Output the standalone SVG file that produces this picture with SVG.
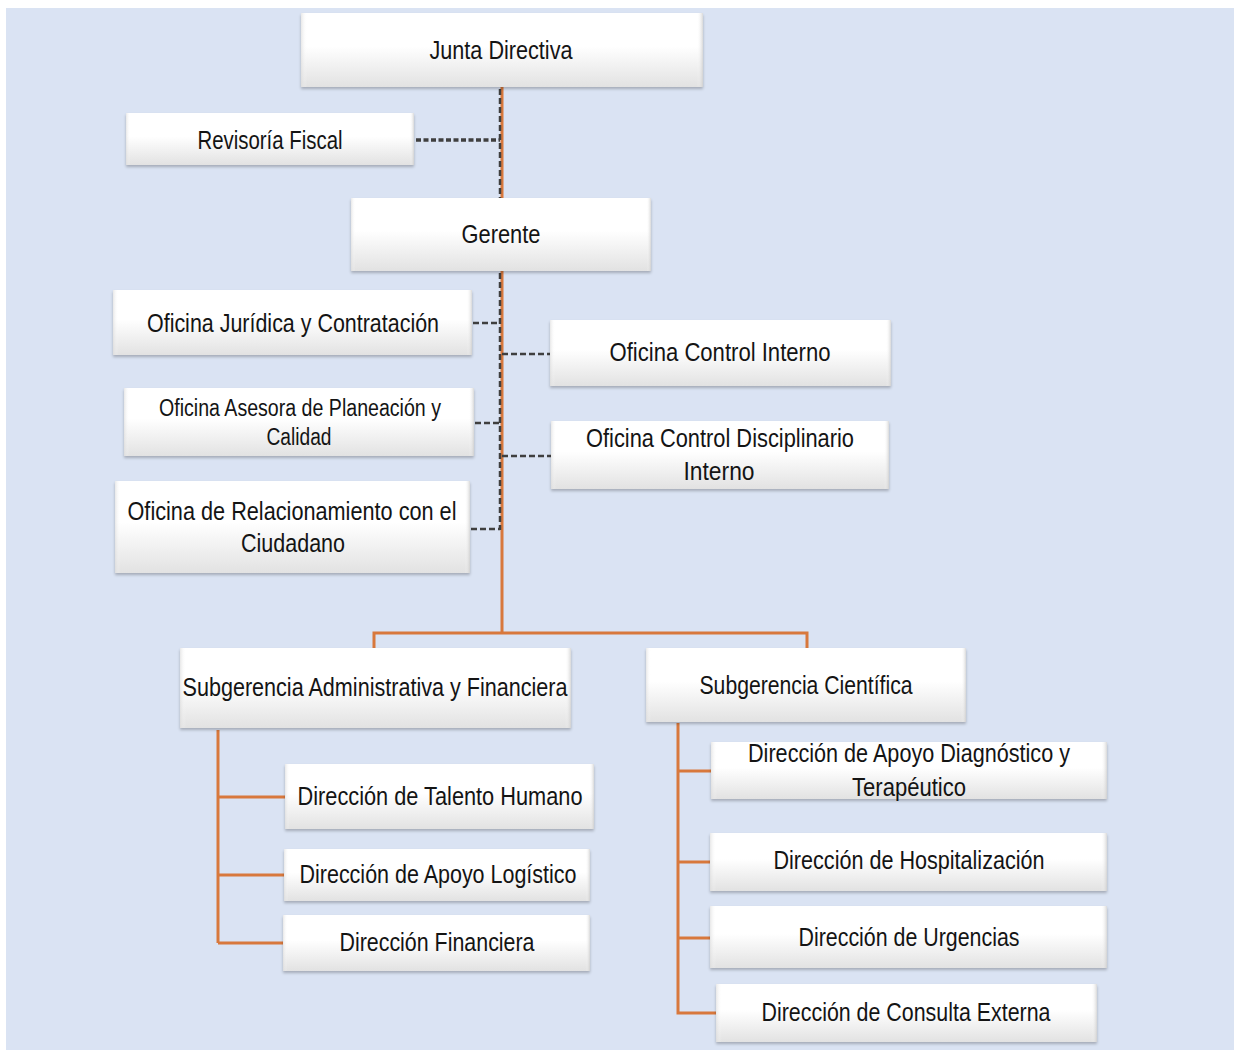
<svg xmlns="http://www.w3.org/2000/svg" width="1234" height="1050" viewBox="0 0 1234 1050">
<defs>
<linearGradient id="bev" x1="0" y1="0" x2="0" y2="1">
<stop offset="0" stop-color="#ffffff"/>
<stop offset="0.45" stop-color="#ffffff"/>
<stop offset="1" stop-color="#e2e2e2"/>
</linearGradient>
<linearGradient id="side" x1="0" y1="0" x2="1" y2="0">
<stop offset="0" stop-color="#d8d8d8" stop-opacity="0.6"/>
<stop offset="0.015" stop-color="#ffffff" stop-opacity="0"/>
<stop offset="0.985" stop-color="#ffffff" stop-opacity="0"/>
<stop offset="1" stop-color="#c8c8c8" stop-opacity="0.7"/>
</linearGradient>
<filter id="sh" x="-5%" y="-10%" width="110%" height="130%">
<feGaussianBlur in="SourceAlpha" stdDeviation="1.5"/>
<feOffset dx="0" dy="1.5" result="b"/>
<feComponentTransfer><feFuncA type="linear" slope="0.25"/></feComponentTransfer>
<feMerge><feMergeNode/><feMergeNode in="SourceGraphic"/></feMerge>
</filter>
</defs>
<style>
.box{fill:url(#bev);filter:url(#sh)}
.edge{fill:url(#side)}
.t{font-family:"Liberation Sans Narrow","Liberation Sans",Arial,sans-serif;font-size:25px;fill:#141414;text-anchor:middle}
.s{font-size:23px}
.or{stroke:#D8783C;stroke-width:3;fill:none}
.dash{stroke:#3f3f3f;stroke-width:2.5;stroke-dasharray:6 3;fill:none}
.dot{stroke:#3f3f3f;stroke-width:3.5;stroke-dasharray:5 2.5;fill:none}
</style>
<rect x="6" y="8" width="1228" height="1042" fill="#DAE3F3"/>

<g id="connectors">
<line class="or" x1="502" y1="87" x2="502" y2="633"/>
<line class="dash" x1="500" y1="89" x2="500" y2="198"/>
<line class="dash" x1="500" y1="273" x2="500" y2="530"/>
<line class="dot" x1="416" y1="140" x2="500" y2="140"/>
<line class="dash" x1="473" y1="323" x2="500" y2="323"/>
<line class="dash" x1="502" y1="354" x2="550" y2="354"/>
<line class="dash" x1="475" y1="423" x2="500" y2="423"/>
<line class="dash" x1="502" y1="456" x2="551" y2="456"/>
<line class="dash" x1="471" y1="529" x2="500" y2="529"/>
<polyline class="or" points="374,648 374,633 807,633 807,648"/>
<polyline class="or" points="218,730 218,943"/>
<line class="or" x1="218" y1="797" x2="286" y2="797"/>
<line class="or" x1="218" y1="875" x2="284" y2="875"/>
<line class="or" x1="218" y1="943" x2="283" y2="943" stroke-width="4"/>
<polyline class="or" points="678,723 678,1013 716,1013"/>
<line class="or" x1="678" y1="771" x2="711" y2="771" stroke-width="4"/>
<line class="or" x1="678" y1="862" x2="710" y2="862"/>
<line class="or" x1="678" y1="938" x2="710" y2="938" stroke-width="4"/>
</g>

<g id="junta"><rect class="box" x="301" y="13" width="402" height="74"/><rect class="edge" x="301" y="13" width="402" height="74"/>
<text class="t" x="501" y="59" textLength="143" lengthAdjust="spacingAndGlyphs">Junta Directiva</text></g>

<g id="revisoria"><rect class="box" x="126" y="113" width="288" height="52"/><rect class="edge" x="126" y="113" width="288" height="52"/>
<text class="t" x="270" y="149" textLength="145" lengthAdjust="spacingAndGlyphs">Revisoría Fiscal</text></g>

<g id="gerente"><rect class="box" x="351" y="198" width="300" height="73"/><rect class="edge" x="351" y="198" width="300" height="73"/>
<text class="t" x="501" y="243" textLength="79" lengthAdjust="spacingAndGlyphs">Gerente</text></g>

<g id="juridica"><rect class="box" x="113" y="290" width="359" height="65"/><rect class="edge" x="113" y="290" width="359" height="65"/>
<text class="t" x="293" y="332" textLength="292" lengthAdjust="spacingAndGlyphs">Oficina Jurídica y Contratación</text></g>

<g id="control-interno"><rect class="box" x="550" y="320" width="341" height="66"/><rect class="edge" x="550" y="320" width="341" height="66"/>
<text class="t" x="720" y="361" textLength="221" lengthAdjust="spacingAndGlyphs">Oficina Control Interno</text></g>

<g id="planeacion"><rect class="box" x="124" y="388" width="350" height="68"/><rect class="edge" x="124" y="388" width="350" height="68"/>
<text class="t s" x="300" y="416" textLength="282" lengthAdjust="spacingAndGlyphs">Oficina Asesora de Planeación y</text>
<text class="t s" x="299" y="445" textLength="65" lengthAdjust="spacingAndGlyphs">Calidad</text></g>

<g id="disciplinario"><rect class="box" x="551" y="421" width="338" height="68"/><rect class="edge" x="551" y="421" width="338" height="68"/>
<text class="t" x="720" y="447" textLength="268" lengthAdjust="spacingAndGlyphs">Oficina Control Disciplinario</text>
<text class="t" x="719" y="480" textLength="71" lengthAdjust="spacingAndGlyphs">Interno</text></g>

<g id="relacionamiento"><rect class="box" x="115" y="481" width="355" height="92"/><rect class="edge" x="115" y="481" width="355" height="92"/>
<text class="t" x="292" y="520" textLength="329" lengthAdjust="spacingAndGlyphs">Oficina de Relacionamiento con el</text>
<text class="t" x="293" y="552" textLength="104" lengthAdjust="spacingAndGlyphs">Ciudadano</text></g>

<g id="sub-adm"><rect class="box" x="180" y="648" width="391" height="80"/><rect class="edge" x="180" y="648" width="391" height="80"/>
<text class="t" x="375" y="696" textLength="385" lengthAdjust="spacingAndGlyphs">Subgerencia Administrativa y Financiera</text></g>

<g id="sub-cient"><rect class="box" x="646" y="648" width="320" height="74"/><rect class="edge" x="646" y="648" width="320" height="74"/>
<text class="t" x="806" y="694" textLength="213" lengthAdjust="spacingAndGlyphs">Subgerencia Científica</text></g>

<g id="talento"><rect class="box" x="285" y="764" width="309" height="65"/><rect class="edge" x="285" y="764" width="309" height="65"/>
<text class="t" x="440" y="805" textLength="285" lengthAdjust="spacingAndGlyphs">Dirección de Talento Humano</text></g>

<g id="logistico"><rect class="box" x="284" y="849" width="306" height="52"/><rect class="edge" x="284" y="849" width="306" height="52"/>
<text class="t" x="438" y="883" textLength="277" lengthAdjust="spacingAndGlyphs">Dirección de Apoyo Logístico</text></g>

<g id="financiera"><rect class="box" x="283" y="915" width="307" height="56"/><rect class="edge" x="283" y="915" width="307" height="56"/>
<text class="t" x="437" y="951" textLength="195" lengthAdjust="spacingAndGlyphs">Dirección Financiera</text></g>

<g id="diagnostico"><rect class="box" x="711" y="742" width="396" height="57"/><rect class="edge" x="711" y="742" width="396" height="57"/>
<text class="t" x="909" y="762" textLength="322" lengthAdjust="spacingAndGlyphs">Dirección de Apoyo Diagnóstico y</text>
<text class="t" x="909" y="796" textLength="114" lengthAdjust="spacingAndGlyphs">Terapéutico</text></g>

<g id="hospitalizacion"><rect class="box" x="710" y="833" width="397" height="58"/><rect class="edge" x="710" y="833" width="397" height="58"/>
<text class="t" x="909" y="869" textLength="271" lengthAdjust="spacingAndGlyphs">Dirección de Hospitalización</text></g>

<g id="urgencias"><rect class="box" x="710" y="906" width="397" height="62"/><rect class="edge" x="710" y="906" width="397" height="62"/>
<text class="t" x="909" y="946" textLength="221" lengthAdjust="spacingAndGlyphs">Dirección de Urgencias</text></g>

<g id="consulta"><rect class="box" x="716" y="984" width="381" height="58"/><rect class="edge" x="716" y="984" width="381" height="58"/>
<text class="t" x="906" y="1021" textLength="289" lengthAdjust="spacingAndGlyphs">Dirección de Consulta Externa</text></g>
</svg>
